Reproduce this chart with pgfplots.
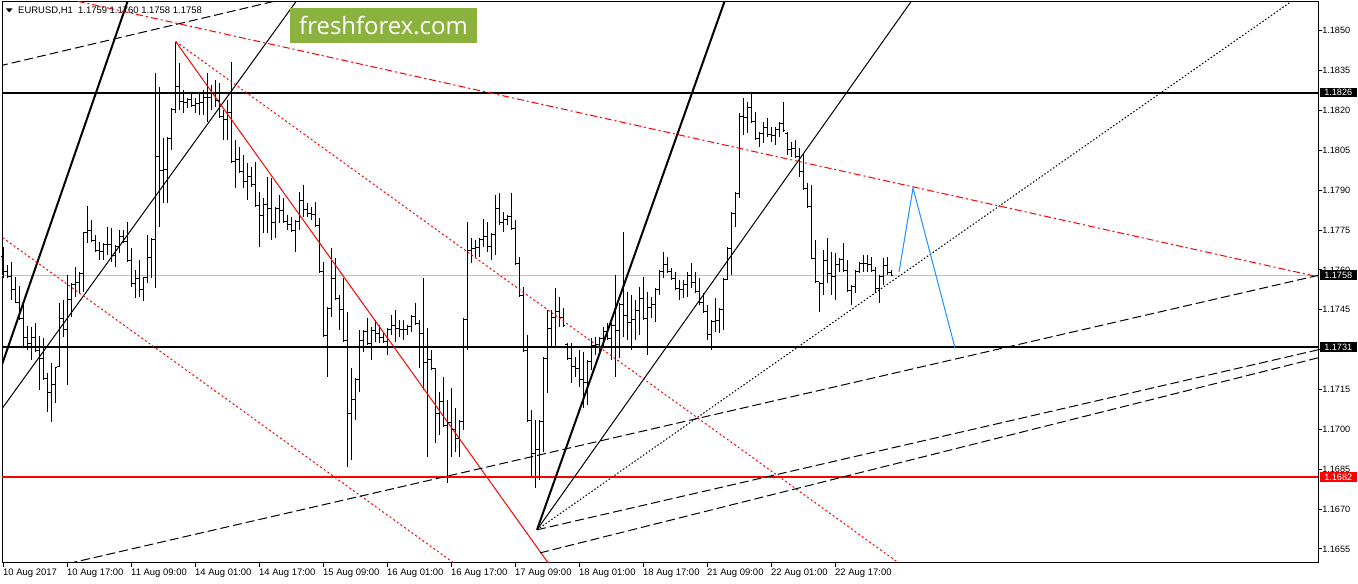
\documentclass[border=0pt]{standalone}
\usepackage{fontspec}
\setmainfont{Liberation Sans}
\newfontfamily\wmfont{Open Sans}
\usepackage{pgfplots}
\pgfplotsset{compat=1.18}
\usepackage{pgfplotstable}

\definecolor{wmgreen}{RGB}{139,178,62}
\definecolor{bidgray}{RGB}{192,192,192}
\definecolor{projblue}{RGB}{30,144,255}

% open / close ticks of the OHLC bars
\pgfdeclareplotmark{otick}{\pgfpathmoveto{\pgfqpoint{-1.8bp}{0pt}}\pgfpathlineto{\pgfqpoint{0pt}{0pt}}\pgfusepathqstroke}
\pgfdeclareplotmark{ctick}{\pgfpathmoveto{\pgfqpoint{0pt}{0pt}}\pgfpathlineto{\pgfqpoint{1.8bp}{0pt}}\pgfusepathqstroke}

% EURUSD H1 bars, index 0 = 10 Aug 2017 00:00
\pgfplotstableread{
i O H L C
0 1.17650 1.17687 1.17569 1.17594
1 1.17594 1.17619 1.17569 1.17574
2 1.17574 1.17631 1.17487 1.17525
3 1.17525 1.17575 1.17474 1.17479
4 1.17479 1.17540 1.17412 1.17417
5 1.17417 1.17476 1.17311 1.17344
6 1.17344 1.17389 1.17299 1.17323
7 1.17323 1.17385 1.17261 1.17346
8 1.17346 1.17400 1.17292 1.17297
9 1.17297 1.17351 1.17148 1.17266
10 1.17266 1.17345 1.17186 1.17191
11 1.17191 1.17212 1.17067 1.17140
12 1.17140 1.17250 1.17029 1.17168
13 1.17168 1.17236 1.17100 1.17231
14 1.17236 1.17476 1.17236 1.17418
15 1.17418 1.17487 1.17349 1.17374
16 1.17374 1.17581 1.17167 1.17488
17 1.17488 1.17551 1.17424 1.17546
18 1.17546 1.17612 1.17499 1.17553
19 1.17553 1.17593 1.17512 1.17588
20 1.17588 1.17744 1.17518 1.17739
21 1.17739 1.17841 1.17701 1.17747
22 1.17747 1.17788 1.17706 1.17711
23 1.17711 1.17731 1.17669 1.17674
24 1.17674 1.17706 1.17637 1.17669
25 1.17669 1.17701 1.17637 1.17696
26 1.17696 1.17763 1.17656 1.17695
27 1.17695 1.17758 1.17631 1.17653
28 1.17653 1.17694 1.17612 1.17689
29 1.17689 1.17750 1.17664 1.17726
30 1.17726 1.17750 1.17701 1.17706
31 1.17706 1.17781 1.17631 1.17636
32 1.17636 1.17683 1.17537 1.17547
33 1.17547 1.17600 1.17494 1.17568
34 1.17568 1.17637 1.17499 1.17528
35 1.17528 1.17575 1.17481 1.17570
36 1.17570 1.17731 1.17551 1.17645
37 1.17645 1.17720 1.17570 1.17715
38 1.17715 1.18341 1.17532 1.18026
39 1.18026 1.18289 1.17763 1.17974
40 1.17974 1.18096 1.17852 1.17977
41 1.17977 1.18101 1.17852 1.18096
42 1.18096 1.18209 1.18051 1.18204
43 1.18204 1.18459 1.18190 1.18290
44 1.18290 1.18379 1.18202 1.18234
45 1.18234 1.18277 1.18190 1.18228
46 1.18228 1.18247 1.18209 1.18242
47 1.18242 1.18271 1.18214 1.18219
48 1.18219 1.18247 1.18190 1.18225
49 1.18225 1.18266 1.18183 1.18230
50 1.18230 1.18277 1.18183 1.18250
51 1.18250 1.18341 1.18158 1.18249
52 1.18249 1.18296 1.18202 1.18265
53 1.18265 1.18315 1.18214 1.18238
54 1.18238 1.18303 1.18172 1.18177
55 1.18177 1.18202 1.18089 1.18164
56 1.18164 1.18239 1.18089 1.18192
57 1.18192 1.18382 1.18002 1.18007
58 1.18007 1.18089 1.17908 1.18014
59 1.18014 1.18062 1.17965 1.17970
60 1.17970 1.18032 1.17908 1.17933
61 1.17933 1.18002 1.17863 1.17950
62 1.17950 1.17987 1.17912 1.17922
63 1.17922 1.18006 1.17837 1.17842
64 1.17842 1.17893 1.17686 1.17805
65 1.17805 1.17871 1.17739 1.17845
66 1.17845 1.17950 1.17739 1.17830
67 1.17830 1.17946 1.17713 1.17779
68 1.17779 1.17837 1.17720 1.17830
69 1.17830 1.17882 1.17777 1.17824
70 1.17824 1.17871 1.17777 1.17782
71 1.17782 1.17807 1.17750 1.17771
72 1.17771 1.17799 1.17743 1.17748
73 1.17748 1.17788 1.17668 1.17783
74 1.17783 1.17893 1.17750 1.17860
75 1.17860 1.17920 1.17799 1.17826
76 1.17826 1.17852 1.17799 1.17813
77 1.17813 1.17837 1.17788 1.17809
78 1.17809 1.17856 1.17762 1.17767
79 1.17767 1.17795 1.17589 1.17594
80 1.17594 1.17630 1.17348 1.17353
81 1.17353 1.17461 1.17197 1.17456
82 1.17456 1.17683 1.17423 1.17566
83 1.17566 1.17645 1.17487 1.17492
84 1.17492 1.17506 1.17374 1.17449
85 1.17449 1.17569 1.17329 1.17334
86 1.17334 1.17442 1.16859 1.17058
87 1.17058 1.17231 1.16885 1.17114
88 1.17114 1.17193 1.17035 1.17188
89 1.17188 1.17374 1.17141 1.17333
90 1.17333 1.17374 1.17291 1.17369
91 1.17369 1.17420 1.17318 1.17323
92 1.17323 1.17385 1.17261 1.17370
93 1.17370 1.17412 1.17329 1.17359
94 1.17359 1.17393 1.17325 1.17346
95 1.17346 1.17366 1.17325 1.17331
96 1.17331 1.17382 1.17280 1.17377
97 1.17377 1.17430 1.17355 1.17389
98 1.17389 1.17449 1.17329 1.17380
99 1.17380 1.17412 1.17348 1.17374
100 1.17374 1.17412 1.17336 1.17374
101 1.17374 1.17393 1.17355 1.17388
102 1.17388 1.17430 1.17366 1.17425
103 1.17425 1.17476 1.17393 1.17398
104 1.17398 1.17412 1.17231 1.17359
105 1.17359 1.17569 1.17148 1.17250
106 1.17250 1.17382 1.16896 1.17262
107 1.17262 1.17299 1.17224 1.17229
108 1.17229 1.17231 1.16949 1.17060
109 1.17060 1.17141 1.16979 1.17103
110 1.17103 1.17197 1.17009 1.17014
111 1.17014 1.17111 1.16799 1.17026
112 1.17026 1.17156 1.16896 1.16998
113 1.16998 1.17081 1.16915 1.16966
114 1.16966 1.17035 1.16896 1.17030
115 1.17030 1.17420 1.16998 1.17415
116 1.17415 1.17780 1.17299 1.17673
117 1.17673 1.17720 1.17626 1.17679
118 1.17679 1.17713 1.17645 1.17685
119 1.17685 1.17720 1.17649 1.17715
120 1.17715 1.17792 1.17686 1.17724
121 1.17724 1.17780 1.17668 1.17688
122 1.17688 1.17739 1.17637 1.17734
123 1.17734 1.17882 1.17656 1.17830
124 1.17830 1.17890 1.17769 1.17780
125 1.17780 1.17818 1.17743 1.17788
126 1.17788 1.17807 1.17769 1.17802
127 1.17802 1.17890 1.17750 1.17755
128 1.17755 1.17788 1.17619 1.17624
129 1.17624 1.17649 1.17498 1.17503
130 1.17503 1.17536 1.17291 1.17296
131 1.17296 1.17355 1.17028 1.17033
132 1.17033 1.17073 1.16821 1.16908
133 1.16908 1.17035 1.16780 1.16923
134 1.16923 1.17035 1.16810 1.17030
135 1.17030 1.17272 1.16915 1.17267
136 1.17267 1.17449 1.17137 1.17380
137 1.17380 1.17449 1.17310 1.17419
138 1.17419 1.17532 1.17306 1.17442
139 1.17442 1.17498 1.17385 1.17421
140 1.17421 1.17457 1.17385 1.17390
141 1.17320 1.17325 1.17261 1.17266
142 1.17266 1.17325 1.17175 1.17235
143 1.17235 1.17272 1.17197 1.17229
144 1.17229 1.17299 1.17159 1.17186
145 1.17186 1.17291 1.17081 1.17177
146 1.17177 1.17261 1.17092 1.17256
147 1.17256 1.17344 1.17224 1.17314
148 1.17314 1.17348 1.17280 1.17318
149 1.17318 1.17348 1.17288 1.17343
150 1.17343 1.17385 1.17310 1.17368
151 1.17368 1.17400 1.17336 1.17341
152 1.17341 1.17400 1.17261 1.17389
153 1.17389 1.17581 1.17197 1.17373
154 1.17373 1.17476 1.17269 1.17471
155 1.17471 1.17743 1.17348 1.17427
156 1.17427 1.17517 1.17336 1.17403
157 1.17403 1.17506 1.17299 1.17412
158 1.17412 1.17487 1.17336 1.17446
159 1.17446 1.17536 1.17355 1.17493
160 1.17493 1.17573 1.17412 1.17417
161 1.17417 1.17517 1.17280 1.17459
162 1.17459 1.17498 1.17419 1.17468
163 1.17468 1.17532 1.17404 1.17527
164 1.17527 1.17600 1.17506 1.17595
165 1.17595 1.17668 1.17569 1.17619
166 1.17619 1.17649 1.17589 1.17594
167 1.17594 1.17607 1.17562 1.17567
168 1.17567 1.17592 1.17525 1.17530
169 1.17530 1.17562 1.17487 1.17528
170 1.17528 1.17562 1.17494 1.17545
171 1.17545 1.17592 1.17498 1.17579
172 1.17579 1.17626 1.17532 1.17553
173 1.17553 1.17592 1.17513 1.17519
174 1.17519 1.17569 1.17468 1.17476
175 1.17476 1.17513 1.17438 1.17443
176 1.17443 1.17468 1.17336 1.17356
177 1.17356 1.17412 1.17299 1.17407
178 1.17407 1.17494 1.17366 1.17410
179 1.17410 1.17457 1.17363 1.17452
180 1.17452 1.17569 1.17374 1.17564
181 1.17564 1.17686 1.17562 1.17681
182 1.17681 1.17818 1.17581 1.17813
183 1.17813 1.17893 1.17762 1.17888
184 1.17888 1.18190 1.17871 1.18178
185 1.18178 1.18247 1.18108 1.18174
186 1.18174 1.18232 1.18115 1.18211
187 1.18211 1.18269 1.18153 1.18158
188 1.18158 1.18194 1.18089 1.18094
189 1.18094 1.18119 1.18062 1.18114
190 1.18114 1.18157 1.18078 1.18136
191 1.18136 1.18172 1.18100 1.18110
192 1.18110 1.18138 1.18081 1.18104
193 1.18104 1.18138 1.18070 1.18129
194 1.18129 1.18157 1.18100 1.18152
195 1.18152 1.18232 1.18119 1.18124
196 1.18114 1.18119 1.18032 1.18053
197 1.18053 1.18081 1.18025 1.18055
198 1.18055 1.18089 1.18021 1.18026
199 1.18026 1.18059 1.17950 1.17970
200 1.17970 1.18040 1.17901 1.17906
201 1.17906 1.17927 1.17833 1.17838
202 1.17838 1.17920 1.17639 1.17644
203 1.17644 1.17713 1.17551 1.17556
204 1.17555 1.17555 1.17442 1.17550
205 1.17550 1.17675 1.17506 1.17636
206 1.17636 1.17720 1.17551 1.17587
207 1.17587 1.17668 1.17506 1.17575
208 1.17575 1.17664 1.17487 1.17619
209 1.17619 1.17645 1.17592 1.17640
210 1.17640 1.17701 1.17592 1.17597
211 1.17597 1.17637 1.17517 1.17522
212 1.17522 1.17543 1.17468 1.17538
213 1.17538 1.17600 1.17513 1.17595
214 1.17595 1.17630 1.17589 1.17624
215 1.17624 1.17656 1.17592 1.17624
216 1.17624 1.17656 1.17592 1.17620
217 1.17620 1.17649 1.17592 1.17597
218 1.17597 1.17611 1.17513 1.17529
219 1.17529 1.17581 1.17476 1.17576
220 1.17576 1.17645 1.17543 1.17615
221 1.17615 1.17649 1.17581 1.17590
222 1.17590 1.17600 1.17580 1.17580
}\bars

\begin{document}
\begin{tikzpicture}[x=1bp,y=1bp]
\useasboundingbox (0,0) rectangle (1358,584);
\begin{axis}[
  at={(2bp,21bp)}, anchor=south west,
  scale only axis, width=1316bp, height=561bp,
  xmin=-0.25, xmax=328.75,
  ymin=1.16497, ymax=1.18608,
  axis line style={black, line width=1bp},
  xtick={0,16,32,48,64,80,96,112,128,144,160,176,192,208},
  xticklabels={10 Aug 2017,10 Aug 17:00,11 Aug 09:00,14 Aug 01:00,14 Aug 17:00,15 Aug 09:00,16 Aug 01:00,16 Aug 17:00,17 Aug 09:00,18 Aug 01:00,18 Aug 17:00,21 Aug 09:00,22 Aug 01:00,22 Aug 17:00},
  ytick={1.1655,1.1670,1.1685,1.1700,1.1715,1.1730,1.1745,1.1760,1.1775,1.1790,1.1805,1.1820,1.1835,1.1850},
  yticklabels={1.1655,1.1670,1.1685,1.1700,1.1715,1.1730,1.1745,1.1760,1.1775,1.1790,1.1805,1.1820,1.1835,1.1850},
  xtick pos=left, ytick pos=right, yticklabel pos=right,
  tick align=outside, major tick length=4bp,
  tick style={black, line width=1bp},
  xticklabel style={anchor=north west, inner sep=0pt, yshift=-1.5bp, font=\fontsize{9.5}{10}\selectfont},
  yticklabel style={anchor=west, inner sep=0pt, font=\fontsize{9.2}{10}\selectfont},
  scaled y ticks=false,
]
% bid line
\addplot[bidgray, line width=1bp] coordinates {(-1,1.17580) (330,1.17580)};

% OHLC bars
\addplot[draw=none, mark=none,
  error bars/.cd, y dir=minus, y explicit, error mark=none,
  error bar style={draw=black, solid, line width=1bp}]
  table[x=i, y=H, y error minus expr=\thisrow{H}-\thisrow{L}] {\bars};
\addplot[only marks, mark=otick, mark options={black, line width=1bp}] table[x=i, y=O] {\bars};
\addplot[only marks, mark=ctick, mark options={black, line width=1bp}] table[x=i, y=C] {\bars};

% horizontal levels
\addplot[black, line width=2bp] coordinates {(-1,1.18267) (330,1.18267)};
\addplot[black, line width=2bp] coordinates {(-1,1.17310) (330,1.17310)};
\addplot[red, line width=2bp] coordinates {(-1,1.16820) (330,1.16820)};

% thick angle lines
\addplot[black, line width=2bp] coordinates {(-1,1.17211) (33,1.18691)};
\addplot[black, line width=2bp] coordinates {(133.5,1.16622) (182,1.18679)};
% thin angle lines
\addplot[black, line width=1bp] coordinates {(-1,1.17062) (75,1.18646)};
\addplot[black, line width=1bp] coordinates {(133.5,1.16622) (230,1.18673)};
% dotted line from the anchor
\addplot[black, line width=1bp, dash pattern=on 1.5bp off 2bp] coordinates {(133.5,1.16622) (325,1.18641)};

% red lines from the 11 Aug high
\addplot[red, line width=1bp, dash pattern=on 7bp off 3bp on 2bp off 3bp] coordinates {(15,1.18623) (329,1.17573)};
\addplot[red, line width=1bp, dash pattern=on 2bp off 2.5bp] coordinates {(43.175,1.18459) (228,1.16453)};
\addplot[red, line width=1bp, dash pattern=on 2bp off 2.5bp] coordinates {(-1,1.17731) (115,1.16472)};
\addplot[red, line width=1bp] coordinates {(43.175,1.18459) (140,1.16419)};

% long dashed channel lines
\addplot[black, line width=1bp, dash pattern=on 9bp off 4bp] coordinates {(-1,1.18367) (75,1.18636)};
\addplot[black, line width=1bp, dash pattern=on 9bp off 4bp] coordinates {(10,1.16473) (329,1.17580)};
\addplot[black, line width=1bp, dash pattern=on 9bp off 4bp] coordinates {(133.5,1.16622) (329,1.17300)};
\addplot[black, line width=1bp, dash pattern=on 9bp off 4bp] coordinates {(134.25,1.16535) (329,1.17270)};

% projected path
\addplot[projblue, line width=1bp] coordinates {(224,1.17592) (227.5,1.17908) (238,1.17306)};

\coordinate (l1826) at (axis cs:328.75,1.18267);
\coordinate (l1758) at (axis cs:328.75,1.17580);
\coordinate (l1731) at (axis cs:328.75,1.17310);
\coordinate (l1682) at (axis cs:328.75,1.16820);
\end{axis}

% price labels of the levels
\tikzset{lvl/.style={anchor=west, xshift=1.5bp, inner xsep=4.5bp, inner ysep=1.6bp, text=white, font=\fontsize{9.2}{10}\selectfont}}
\node[lvl, fill=black] at (l1826) {1.1826};
\node[lvl, fill=black] at (l1758) {1.1758};
\node[lvl, fill=black] at (l1731) {1.1731};
\node[lvl, fill=red] at (l1682) {1.1682};

% header
\fill (6,575.5) -- (12.5,575.5) -- (9.25,571.5) -- cycle;
\node[anchor=west, inner sep=0pt, font=\fontsize{9.5}{10}\selectfont] at (18,573) {EURUSD,H1\ \ 1.1759 1.1760 1.1758 1.1758};

% watermark
\node[fill=wmgreen, minimum width=187bp, minimum height=35bp, inner sep=0pt, text=white,
  font=\wmfont\fontsize{24}{24}\selectfont] at (383.5,558) {freshforex.com};
\end{tikzpicture}
\end{document}
